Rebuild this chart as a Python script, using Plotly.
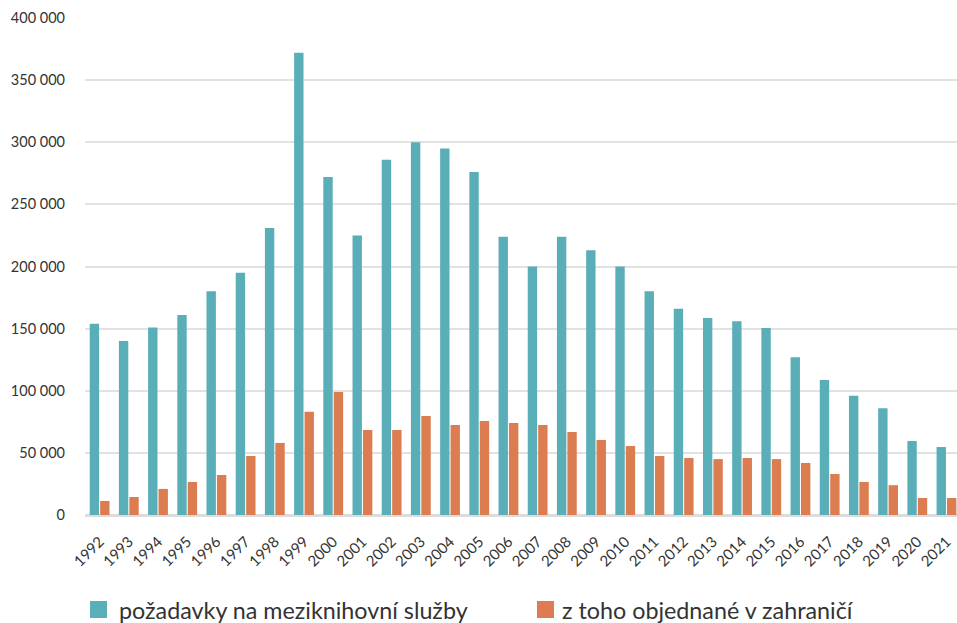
import plotly.graph_objects as go

years = [str(y) for y in range(1992, 2022)]
pozadavky = [154000, 140000, 151000, 161000, 180000, 195000, 231000, 372000, 272000, 225000,
             286000, 300000, 295000, 276000, 224000, 200000, 224000, 213000, 200000, 180000,
             166000, 158500, 156000, 150500, 127000, 108700, 96000, 86000, 59600, 54700]
zahranici = [11300, 14500, 21000, 26600, 32200, 47500, 58000, 83000, 99000, 68400,
             68400, 79700, 72400, 75700, 74000, 72400, 66800, 60400, 55500, 47500,
             45900, 45000, 45900, 45000, 41900, 33000, 26600, 24000, 13700, 13700]
y_ticks = [0, 50000, 100000, 150000, 200000, 250000, 300000, 350000, 400000]
y_labels = ["0", "50 000", "100 000", "150 000", "200 000", "250 000", "300 000", "350 000", "400 000"]
series_names = ["požadavky na meziknihovní služby", "z toho objednané v zahraničí"]
series_colors = ["#5aaeb8", "#dc7d51"]

FONT = "Lato, 'Source Sans Pro', sans-serif"
W, H = 957, 623
ML, MR, MT, MB = 85, 0, 18, 108
PW, PH = W - ML - MR, H - MT - MB


def px_x(px):
    return (px - ML) / PW


def px_y(py):
    return (H - MB - py) / PH


fig = go.Figure()
fig.add_trace(go.Bar(x=years, y=pozadavky, name=series_names[0],
                     marker=dict(color=series_colors[0], line=dict(width=0))))
fig.add_trace(go.Bar(x=years, y=zahranici, name=series_names[1],
                     marker=dict(color=series_colors[1], line=dict(width=0))))

# manual legend (square swatches + labels)
legend_items = [(90, 117), (537, 560)]
shapes, annotations = [], []
for (sx, tx), name, col in zip(legend_items, series_names, series_colors):
    shapes.append(dict(type="rect", xref="paper", yref="paper",
                       x0=px_x(sx), x1=px_x(sx + 17), y0=px_y(601), y1=px_y(618),
                       fillcolor=col, line=dict(width=0), layer="above"))
    annotations.append(dict(xref="paper", yref="paper", x=px_x(tx), y=px_y(609.5),
                            xanchor="left", yanchor="middle", showarrow=False,
                            text=name, font=dict(size=23.3, color="#333333", family=FONT)))

fig.update_layout(
    width=W, height=H,
    margin=dict(l=ML, r=MR, t=MT, b=MB),
    paper_bgcolor="white", plot_bgcolor="white",
    font=dict(family=FONT, color="#333333"),
    barmode="group", bargap=0.286, bargroupgap=0.1,
    showlegend=False,
    shapes=shapes, annotations=annotations,
    xaxis=dict(type="category", range=[-0.5, 29.36], tickangle=-45, automargin=False,
               tickfont=dict(size=15, color="#333333"), showgrid=False,
               ticks="", showline=False, ticklabelstandoff=14),
    yaxis=dict(range=[0, 400000], tickvals=y_ticks, ticktext=y_labels, automargin=False,
               tickfont=dict(size=14.5, color="#333333"), showgrid=True,
               gridcolor="#e2e2e2", gridwidth=1.5, zeroline=True,
               zerolinecolor="#dcdcdc", zerolinewidth=2.5, ticks="",
               ticklabelstandoff=19),
)

fig.write_html("out.html", config={"displayModeBar": False},
               post_script="document.body.style.margin='0';document.body.style.overflow='hidden';")
